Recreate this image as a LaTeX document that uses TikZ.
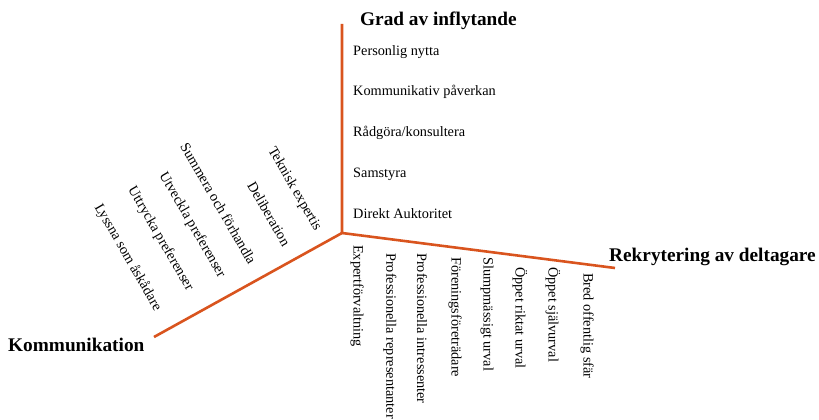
\documentclass[tikz,border=0pt]{standalone}
\usepackage{fontspec}
\setmainfont{Liberation Serif}
\definecolor{axiscol}{RGB}{217,84,30}
\begin{document}
\begin{tikzpicture}[x=1pt,y=-1pt,
  axisline/.style={draw=axiscol, line width=2.6pt},
  item/.style={font=\fontsize{14.3}{16}\selectfont, inner sep=0pt},
  ttl/.style={font=\fontsize{19.3}{21}\selectfont\bfseries, inner sep=0pt}]
\useasboundingbox (0,0) rectangle (819,420);
\coordinate (c) at (342,233);
\coordinate (top) at (342,24);
\coordinate (right) at (615,268);
\coordinate (left) at (154,337);
\draw[axisline] (top) -- (c) -- (right);
\draw[axisline] (c) -- (left);
% titles
\node[ttl, anchor=west] (g) at (360,21) {Grad av inflytande};
\node[ttl, anchor=west] (r) at (609,257) {Rekrytering av deltagare};
\node[ttl, anchor=west] (k) at (8,345) {Kommunikation};
% vertical axis items
\node[item, anchor=west] (v1) at (353,52) {Personlig nytta};
\node[item, anchor=west] (v2) at (353,92) {Kommunikativ påverkan};
\node[item, anchor=west] (v3) at (353,133) {Rådgöra/konsultera};
\node[item, anchor=west] (v4) at (353,174) {Samstyra};
\node[item, anchor=west] (v5) at (353,214) {Direkt Auktoritet};
% right axis items
\node[item, rotate=-90, anchor=west] (h1) at (357,245) {Expertförvaltning};
\node[item, rotate=-90, anchor=west] (h2) at (390,253) {Professionella representanter};
\node[item, rotate=-90, anchor=west] (h3) at (422,253) {Professionella intressenter};
\node[item, rotate=-90, anchor=west] (h4) at (455,257) {Föreningsföreträdare};
\node[item, rotate=-90, anchor=west] (h5) at (487,257) {Slumpmässigt urval};
\node[item, rotate=-90, anchor=west] (h6) at (520,267) {Öppet riktat urval};
\node[item, rotate=-90, anchor=west] (h7) at (553,267) {Öppet självurval};
\node[item, rotate=-90, anchor=west] (h8) at (587,273) {Bred offentlig sfär};
% left axis items
\node[item, rotate=-60, anchor=east] (d1) at (318,230) {Teknisk expertis};
\node[item, rotate=-60, anchor=east] (d2) at (287,245) {Deliberation};
\node[item, rotate=-60, anchor=east] (d3) at (253,263) {Summera och förhandla};
\node[item, rotate=-60, anchor=east] (d4) at (222,277) {Utveckla preferenser};
\node[item, rotate=-60, anchor=east] (d5) at (190,290) {Uttrycka preferenser};
\node[item, rotate=-60, anchor=east] (d6) at (158,310) {Lyssna som åskådare};
\end{tikzpicture}
\end{document}
